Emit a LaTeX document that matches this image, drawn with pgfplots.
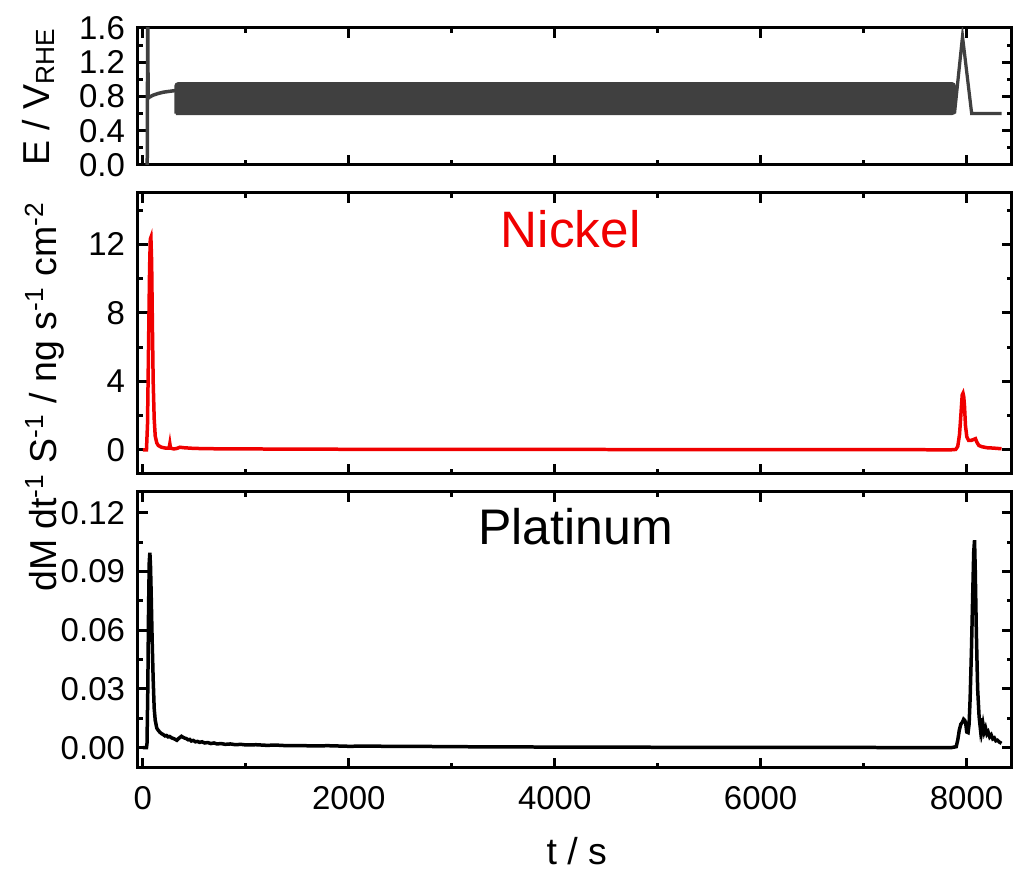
\documentclass[border=0pt]{standalone}
\usepackage{fontspec}
\setmainfont{Liberation Sans}
\usepackage{pgfplots}
\pgfplotsset{compat=1.18}
\definecolor{potgray}{HTML}{404040}
\definecolor{nired}{HTML}{F00000}

\pgfplotsset{
  panel/.style={
    scale only axis, width=349.6pt, anchor=south west,
    xmin=-48, xmax=8437,
    tick align=inside, tick pos=both,
    axis line style={line width=1.2pt},
    tick style={line width=1.2pt, black},
    major tick length=4pt, minor tick length=2pt,
    xtick={0,2000,4000,6000,8000},
    minor xtick={1000,3000,5000,7000},
    ticklabel style={font=\fontsize{13.2}{15}\selectfont},
    /pgf/number format/assume math mode=true,
    /pgf/number format/1000 sep={},
    yticklabel style={anchor=east, inner sep=0pt, xshift=-5pt},
    xticklabel style={anchor=north, inner sep=0pt, yshift=-7.4pt},
    clip=true,
  }
}

\begin{document}
\begin{tikzpicture}[x=1pt,y=1pt]
\path (0,0) rectangle (405.2,348.8);

% ---------- top panel: potential ----------
\begin{axis}[panel, at={(55.2pt,282.8pt)}, height=54.8pt,
  ymin=0, ymax=1.6, ytick={0,0.4,0.8,1.2,1.6}, minor ytick={0.2,0.6,1.0,1.4},
  xticklabels={},
  yticklabel style={/pgf/number format/fixed, /pgf/number format/fixed zerofill, /pgf/number format/precision=1}]
\addplot[potgray, line width=1.4pt] coordinates {
 (42,-0.1)(47,1.75)(51,0.78)(60,0.79)(100,0.815)(150,0.835)(200,0.85)(260,0.86)(320,0.87)
};
\addplot[fill=potgray, draw=potgray, line width=1.2pt, rounded corners=1pt] coordinates {
 (320,0.6)(7883,0.6)(7883,0.95)(320,0.95)(320,0.6)
};
\addplot[potgray, line width=1.3pt] coordinates {
 (7883,0.6)(7961,1.5)(8050,0.6)(8340,0.6)
};
\end{axis}

% ---------- middle panel: Nickel ----------
\begin{axis}[panel, at={(55.2pt,159.2pt)}, height=112.4pt,
  ymin=-1.4, ymax=15, ytick={0,4,8,12}, minor ytick={2,6,10,14},
  xticklabels={}]
\addplot[nired, line width=1.4pt] coordinates {
 (0,0)(35,0)(45,1.5)(55,6)(65,10.5)(72,12.3)(78,12.4)(85,11)(92,7.5)(100,4)(110,1.8)
 (120,0.8)(135,0.4)(150,0.25)(180,0.15)(220,0.1)(255,0.1)(262,0.35)(268,0.1)(300,0.05)
 (330,0.08)(360,0.15)(400,0.12)(450,0.1)(500,0.08)(600,0.07)(700,0.06)(850,0.05)(1000,0.05)
 (1500,0.04)(2000,0.03)(3000,0.025)(4000,0.02)(5000,0.015)(6000,0.01)(7000,0.01)(7850,0.0)
 (7895,0.02)(7915,0.2)(7932,0.9)(7946,2.1)(7958,3.2)(7966,3.3)(7973,3.1)(7980,2.6)
 (7990,1.4)(8003,0.75)(8020,0.55)(8045,0.55)(8068,0.6)(8087,0.65)(8100,0.45)(8120,0.25)
 (8150,0.18)(8200,0.12)(8260,0.1)(8300,0.08)(8340,0.06)
};
\end{axis}

% ---------- bottom panel: Platinum ----------
\begin{axis}[panel, at={(55.2pt,41.6pt)}, height=110.4pt,
  ymin=-0.0102, ymax=0.1307, ytick={0,0.03,0.06,0.09,0.12},
  minor ytick={0.015,0.045,0.075,0.105},
  yticklabel style={/pgf/number format/fixed, /pgf/number format/fixed zerofill, /pgf/number format/precision=2}]
\addplot[black, line width=1.4pt] coordinates {
 (0,0.0)(35,0.0)(40,0.002)(48,0.03)(55,0.07)(62,0.095)(68,0.0996)(74,0.093)(80,0.08)
 (90,0.055)(100,0.035)(110,0.02)(120,0.014)(135,0.010)(150,0.0088)(165,0.0079)(180,0.0072)
 (200,0.0066)(215,0.006)(230,0.0062)(245,0.0055)(260,0.0057)(280,0.005)(300,0.0046)
 (315,0.0042)(330,0.0038)(345,0.0046)(360,0.0052)(375,0.0058)(390,0.0053)(405,0.0049)
 (420,0.0047)(440,0.004)(455,0.0042)(470,0.0034)(490,0.0037)(510,0.003)(530,0.0032)
 (550,0.0027)(575,0.003)(600,0.0024)(630,0.0026)(660,0.0021)(690,0.0024)(720,0.0019)
 (760,0.0021)(800,0.0017)(850,0.0019)(900,0.0015)(950,0.0017)(1000,0.0014)(1100,0.0015)
 (1200,0.0012)(1300,0.0013)(1400,0.001)(1500,0.0011)(1650,0.0009)(1800,0.001)(2000,0.0007)
 (2200,0.0008)(2500,0.0006)(2800,0.0006)(3000,0.0005)(3500,0.0004)(4000,0.0003)
 (4500,0.0003)(5000,0.0002)(5500,0.0002)(6000,0.0001)(7000,0.0001)(7850,0.0)(7900,0.0005)
 (7915,0.004)(7930,0.009)(7945,0.012)(7960,0.013)(7972,0.0145)(7982,0.014)(7992,0.0125)
 (8002,0.008)(8015,0.0077)(8025,0.012)(8035,0.025)(8048,0.05)(8060,0.078)(8070,0.1)
 (8078,0.106)(8085,0.09)(8095,0.06)(8108,0.03)(8122,0.016)(8132,0.011)(8140,0.015)
 (8150,0.009)(8160,0.012)(8172,0.008)(8185,0.01)(8198,0.007)(8210,0.008)(8225,0.0055)
 (8240,0.0065)(8255,0.0045)(8270,0.005)(8285,0.0035)(8300,0.0038)(8320,0.0028)(8340,0.0022)
};
\end{axis}

% ---------- labels ----------
\node[rotate=90, inner sep=0pt, font=\fontsize{15}{17}\selectfont] at (15.4pt,310pt)
  {E / V\textsubscript{RHE}};
\node[rotate=90, inner sep=0pt, font=\fontsize{15}{17}\selectfont] at (18pt,190pt)
  {dM dt\textsuperscript{-1} S\textsuperscript{-1} / ng s\textsuperscript{-1} cm\textsuperscript{-2}};
\node[inner sep=0pt, font=\fontsize{15}{17}\selectfont] at (230.8pt,8.2pt) {t / s};
\node[inner sep=0pt, text=nired, font=\fontsize{20.5}{23}\selectfont] at (228.4pt,257.2pt) {Nickel};
\node[inner sep=0pt, font=\fontsize{20}{23}\selectfont] at (230.4pt,138pt) {Platinum};
\end{tikzpicture}
\end{document}
